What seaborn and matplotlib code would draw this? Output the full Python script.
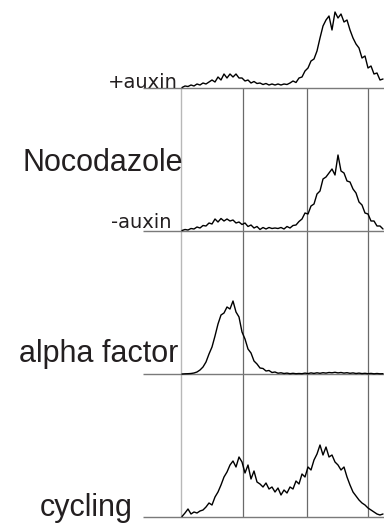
import numpy as np
import pandas as pd
import matplotlib
matplotlib.use('Agg')
import matplotlib.pyplot as plt
import seaborn as sns

# DNA content histograms (counts per channel bin)
channel = np.arange(39, 241, 3)

plus_auxin = [0.5, 2, 1.5, 3, 2, 4, 3, 5, 4, 6,
              8, 6, 11, 8, 14, 10, 14, 11, 14, 10,
              10, 7, 8, 5, 6.5, 4.5, 5, 3.5, 4.5, 3,
              4, 3, 4, 3, 4, 3.5, 5, 7, 5.5, 10,
              11, 17, 20, 27, 29, 37, 50, 62, 68, 72,
              58, 76, 70, 74, 66, 68, 58, 50, 44, 40,
              30, 32, 20, 22, 14, 15, 8, 9]

minus_auxin = [0.5, 1.5, 1, 2.5, 2, 4, 3, 5.5, 5, 8,
               7, 12, 9, 12.5, 10, 12, 10, 11, 8, 9,
               6.5, 8, 4.5, 6, 3, 4.5, 1.5, 3.5, 2, 3.5,
               2.5, 3, 2.5, 3.5, 2, 4.5, 3, 5.5, 6, 9.5,
               12, 18, 17, 25, 27, 37, 40, 52, 54, 58,
               62, 56, 76, 60, 58, 50, 49, 42, 38, 29,
               26, 18, 17, 10, 10, 5, 5, 2]

alpha_factor = [0, 0.2, 0.3, 0.5, 1, 2, 4, 7, 12, 20,
                27, 38, 50, 59, 61, 67, 65, 73, 62, 57,
                42, 35, 25, 21, 13, 10, 6, 5.5, 3, 3.5,
                1.5, 2, 0.8, 1.2, 0.5, 0.9, 0.3, 0.7, 0.3, 0.5,
                0.3, 0.9, 0.4, 1.1, 0.6, 1.2, 0.7, 1.3, 0.9, 1.5,
                1.2, 1.7, 1.1, 1.5, 0.9, 1.3, 0.7, 1.1, 0.5, 0.9,
                0.4, 0.7, 0.3, 0.6, 0.2, 0.5, 0.2, 0.3]

cycling = [0.5, 4, 8, 3, 5, 4, 6, 7, 10, 14,
           12, 20, 25, 32, 40, 45, 52, 56, 50, 60,
           55, 44, 52, 38, 46, 35, 33, 30, 34, 28,
           30, 25, 29, 22, 27, 24, 30, 28, 36, 33,
           43, 40, 50, 47, 57, 63, 72, 62, 70, 60,
           62, 55, 52, 47, 50, 40, 32, 25, 21, 17,
           14, 12, 9, 7, 5, 3, 2, 3]

samples = ['cycling', 'alpha factor', '-auxin', '+auxin']
offsets = [0, 143, 286, 429]
ploidy_marks = [38, 100, 164, 225]

# stack the histograms
series = {'cycling': cycling, 'alpha factor': alpha_factor,
          '-auxin': minus_auxin, '+auxin': plus_auxin}
frames = []
for name, off in zip(samples, offsets):
    frames.append(pd.DataFrame({'channel': channel,
                                'counts': np.array(series[name]) + off,
                                'sample': name}))
df = pd.concat(frames, ignore_index=True)

sns.set_style('white')
fig = plt.figure(figsize=(3.84, 5.26), dpi=100)
ax = fig.add_axes([143 / 384, 0, 241 / 384, 1])

# reference lines
ax.vlines(ploidy_marks[0], offsets[0], offsets[-1], color='#b8b8b8', lw=1)
ax.vlines(ploidy_marks[1:], offsets[0], offsets[-1], color='#6a6a6a', lw=0.9)
ax.hlines(offsets, 0, 241, color='#7a7a7a', lw=1)

sns.lineplot(data=df, x='channel', y='counts', units='sample', estimator=None,
             color='black', lw=1, ax=ax, legend=False)

ax.set_xlim(0, 241)
ax.set_ylim(-9, 517)
ax.set_axis_off()

big = dict(family='Liberation Sans', fontsize=22, color='#231f20',
           ha='right', va='baseline', clip_on=False)
small = dict(family='DejaVu Sans', fontsize=14, color='#231f20',
             ha='right', va='baseline', clip_on=False)

ax.text(35, 429, '+auxin', **small)
ax.text(28, 289, '-auxin', **small)
ax.text(40, 346, 'Nocodazole', **big)
ax.text(35, 155, 'alpha factor', **big)
ax.text(-10, 1, 'cycling', **big)

plt.savefig('out.png', dpi=100)
